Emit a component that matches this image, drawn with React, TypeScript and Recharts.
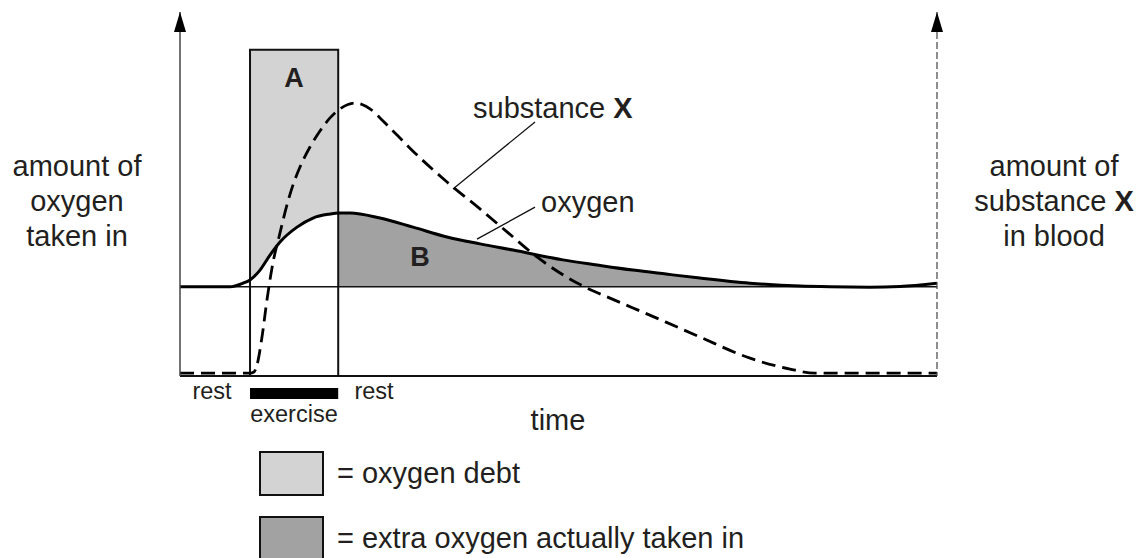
import React from "react";
import {
  ComposedChart,
  Line,
  Area,
  XAxis,
  YAxis,
  ReferenceArea,
  ReferenceLine,
} from "recharts";

// time axis runs 0..100, both vertical scales 0..100
const oxygenTime = [0, 6.6, 8.32, 9.25, 10.57, 11.89, 13.21, 15.46, 17.57, 19.82, 20.9, 22.46, 26.42, 30.78, 35.27, 39.63, 43.99, 50.59, 55.09, 59.84, 64.2, 68.69, 75.3, 81.9, 85.9, 91.1, 95.1, 100];
const oxygenLevel = [24.5, 24.5, 25.5, 26.4, 29.1, 33.2, 36.8, 40.9, 43.4, 44.5, 44.8, 44.8, 43.4, 40.9, 38.2, 36.3, 34.6, 31.9, 30.5, 29.1, 28.0, 26.9, 25.5, 24.7, 24.5, 24.4, 24.6, 25.5];

const substanceTime = [0, 9.25, 9.77, 10.17, 10.83, 11.49, 12.15, 13.21, 14.13, 14.93, 15.85, 17.17, 18.49, 19.82, 21.14, 22.19, 23.12, 24.04, 25.1, 26.42, 27.74, 29.06, 30.38, 35.27, 39.63, 43.2, 47.16, 50.2, 53.24, 56.8, 59.84, 64.2, 68.69, 75.3, 80.58, 83.88, 100];
const substanceLevel = [0.8, 0.8, 1.1, 3.0, 10.7, 20.9, 29.7, 39.3, 47.0, 52.5, 57.4, 62.9, 67.3, 70.9, 73.4, 74.6, 75.0, 74.6, 73.4, 70.9, 68.1, 65.4, 62.6, 53.3, 45.9, 39.6, 32.7, 28.3, 24.7, 21.4, 18.7, 14.8, 10.7, 4.9, 1.9, 0.8, 0.8];

const restLevel = 24.5;
const exerciseWindow = [9.25, 20.9];
const debtTop = 89.6;
const extraEnd = 85.9;
const exerciseBar = [-6.3, -3.3];

// leader lines from labels to curves
const substanceLeader = [{ x: 36.06, y: 51.4 }, { x: 46.9, y: 69.8 }];
const oxygenLeader = [{ x: 39.23, y: 37.6 }, { x: 46.9, y: 46.4 }];

const oxygenData = oxygenTime.map((t, i) => ({ t, v: oxygenLevel[i] }));
const substanceData = substanceTime.map((t, i) => ({ t, v: substanceLevel[i] }));
const debtData = oxygenData
  .filter((d) => d.t >= exerciseWindow[0] && d.t <= exerciseWindow[1])
  .map((d) => ({ t: d.t, band: [d.v, debtTop] }));
const extraData = oxygenData
  .filter((d) => d.t >= exerciseWindow[1] && d.t <= extraEnd)
  .map((d) => ({ t: d.t, band: [restLevel, d.v] }));

const W = 1137;
const H = 558;
const FONT = "'Liberation Sans', Arial, Helvetica, sans-serif";
const INK = "#231f20";

const App: React.FC = () => {
  return (
    <div style={{ position: "absolute", left: 0, top: 0, width: W, height: H, fontFamily: FONT, background: "#fff" }}>
      <ComposedChart width={W} height={H} margin={{ top: 12, right: 140, bottom: 152, left: 120 }}>
        <XAxis
          type="number"
          dataKey="t"
          domain={[0, 100]}
          allowDataOverflow
          tick={false}
          tickLine={false}
          height={30}
          axisLine={{ stroke: "#111", strokeWidth: 2 }}
        />
        <YAxis
          yAxisId="left"
          type="number"
          domain={[0, 100]}
          allowDataOverflow
          width={60}
          tick={false}
          tickLine={false}
          axisLine={{ stroke: "#444", strokeWidth: 1.5 }}
        />
        <YAxis
          yAxisId="right"
          orientation="right"
          type="number"
          domain={[0, 100]}
          width={60}
          tick={false}
          tickLine={false}
          axisLine={{ stroke: "#444", strokeWidth: 1.2, strokeDasharray: "7 3" }}
        />

        <Area
          yAxisId="left"
          data={debtData}
          dataKey="band"
          type="monotone"
          fill="#d3d3d3"
          fillOpacity={1}
          stroke="none"
          isAnimationActive={false}
        />
        <Area
          yAxisId="left"
          data={extraData}
          dataKey="band"
          type="monotone"
          fill="#a2a2a2"
          fillOpacity={1}
          stroke="none"
          isAnimationActive={false}
        />

        <ReferenceLine yAxisId="left" y={restLevel} stroke="#111" strokeWidth={1.5} />
        <ReferenceArea
          yAxisId="left"
          x1={exerciseWindow[0]}
          x2={exerciseWindow[1]}
          y1={0}
          y2={debtTop}
          fill="none"
          stroke="#111"
          strokeWidth={2}
          ifOverflow="visible"
        />
        <ReferenceArea
          yAxisId="left"
          x1={exerciseWindow[0]}
          x2={exerciseWindow[1]}
          y1={exerciseBar[0]}
          y2={exerciseBar[1]}
          fill="#000"
          fillOpacity={1}
          stroke="none"
          ifOverflow="visible"
        />

        <ReferenceLine yAxisId="left" segment={substanceLeader} stroke="#111" strokeWidth={1.3} />
        <ReferenceLine yAxisId="left" segment={oxygenLeader} stroke="#111" strokeWidth={1.3} />

        <Line
          yAxisId="left"
          data={oxygenData}
          dataKey="v"
          type="monotone"
          stroke="#000"
          strokeWidth={3}
          dot={false}
          isAnimationActive={false}
        />
        <Line
          yAxisId="left"
          data={substanceData}
          dataKey="v"
          type="monotone"
          stroke="#000"
          strokeWidth={2.8}
          strokeDasharray="14 7"
          dot={false}
          isAnimationActive={false}
        />
      </ComposedChart>

      <svg
        width={W}
        height={H}
        style={{ position: "absolute", left: 0, top: 0, pointerEvents: "none" }}
        fontFamily={FONT}
        fill={INK}
      >
        {/* axis arrowheads */}
        <polygon points="180,12 174,32 186,32" fill="#000" />
        <polygon points="937,12 931,32 943,32" fill="#000" />

        <g fontSize={29} textAnchor="middle">
          <text x={77} y={176}>amount of</text>
          <text x={77} y={211}>oxygen</text>
          <text x={77} y={246}>taken in</text>
          <text x={1054} y={176}>amount of</text>
          <text x={1054} y={211}>
            substance <tspan fontWeight="bold">X</tspan>
          </text>
          <text x={1054} y={246}>in blood</text>
          <text x={558} y={430}>time</text>
        </g>

        <g fontSize={29}>
          <text x={473} y={118}>
            substance <tspan fontWeight="bold">X</tspan>
          </text>
          <text x={541} y={212}>oxygen</text>
        </g>

        <g fontSize={27} fontWeight="bold" textAnchor="middle">
          <text x={294} y={87}>A</text>
          <text x={420} y={266}>B</text>
        </g>

        <g fontSize={23.5} textAnchor="middle">
          <text x={212} y={399}>rest</text>
          <text x={374} y={399}>rest</text>
          <text x={294} y={422}>exercise</text>
        </g>

        {/* key */}
        <rect x={260} y={452} width={63} height={43} fill="#d3d3d3" stroke="#111" strokeWidth={2} />
        <rect x={260} y={517} width={63} height={44} fill="#a2a2a2" stroke="#111" strokeWidth={2} />
        <g fontSize={29}>
          <text x={337} y={483}>= oxygen debt</text>
          <text x={337} y={548}>= extra oxygen actually taken in</text>
        </g>
      </svg>
    </div>
  );
};

export default App;
